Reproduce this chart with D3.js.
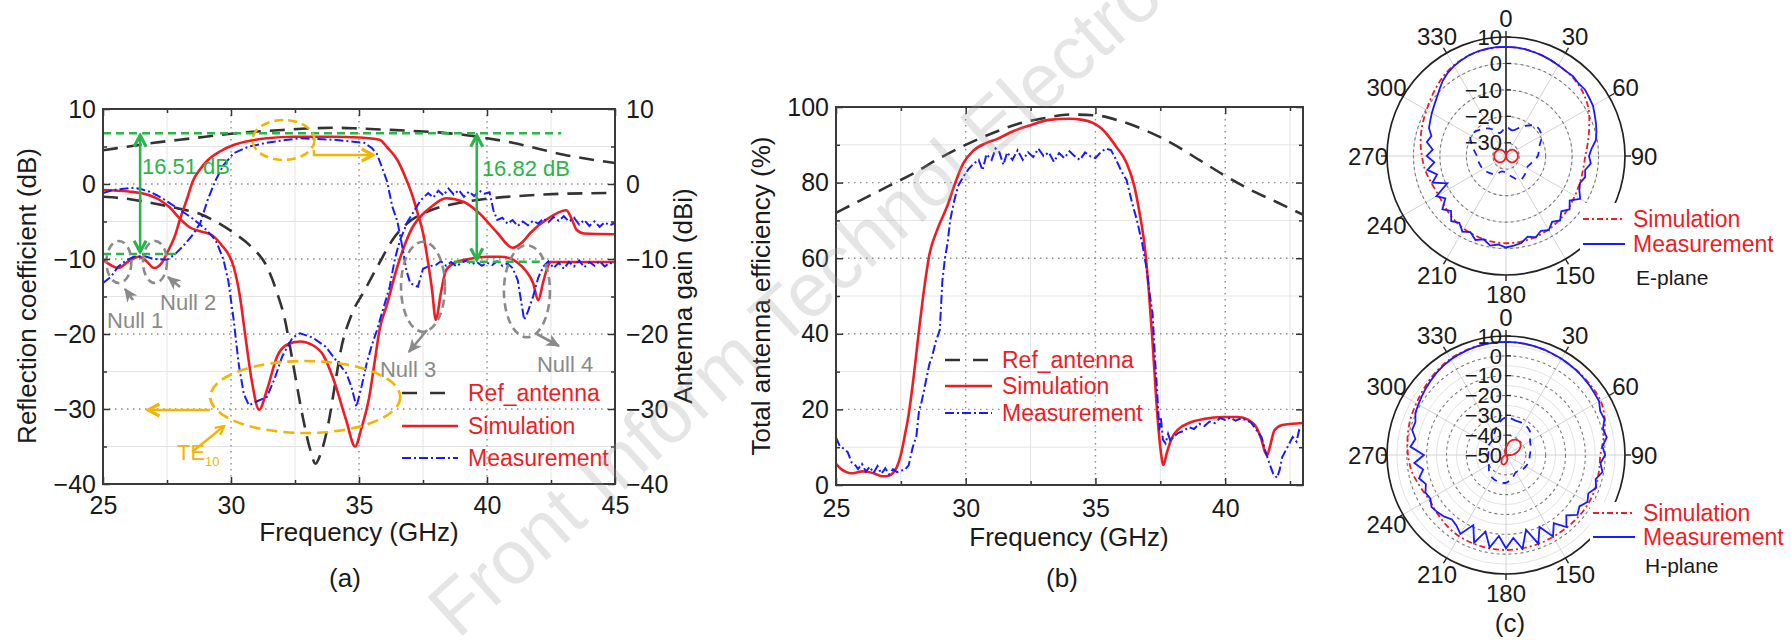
<!DOCTYPE html>
<html><head><meta charset="utf-8">
<script src="https://cdn.jsdelivr.net/npm/d3@7/dist/d3.min.js"></script>
<style>
html,body{margin:0;padding:0;background:#fff;}
svg{display:block;}
text{font-family:"Liberation Sans",Arial,Helvetica,sans-serif;}
</style></head><body>
<svg id="chart" width="1791" height="643"></svg>
<script>
// ---------------- DATA ----------------
const freqTicksA = [25,30,35,40,45];
const freqMinorA = [27.5,32.5,37.5,42.5];
const dbTicks = [-40,-30,-20,-10,0,10];
const dbMinor = [-35,-25,-15,-5,5];
const freqTicksB = [25,30,35,40];
const freqMinorB = [27.5,32.5,37.5,42.5];
const effTicks = [0,20,40,60,80,100];
const effMinor = [10,30,50,70,90];
const legendLabels = ["Ref_antenna","Simulation","Measurement"];
const polarLegendLabels = ["Simulation","Measurement"];
const angleTicks = [0,30,60,90,120,150,180,210,240,270,300,330];
const eRadialTicks = [10,0,-10,-20,-30];
const hRadialTicks = [10,0,-10,-20,-30,-40,-50];

// (a) reflection coefficient (left axis, dB)
const refS11 = [[25,-1.7],[26,-2.0],[27,-2.6],[28,-3.3],[28.8,-4.0],[29.5,-5.2],[30.1,-6.5],[30.8,-8.4],[31.4,-11],[31.8,-14.5],[32.1,-18],[32.4,-23.5],[32.8,-31],[33.1,-35.5],[33.3,-37.3],[33.5,-36],[33.8,-32],[34.05,-27],[34.3,-22],[34.7,-17.5],[35.2,-14.3],[35.8,-10.5],[36.3,-7.5],[36.9,-5.2],[37.8,-3.5],[38.8,-2.6],[39.7,-2.1],[41.7,-1.5],[43,-1.3],[45,-1.2]];
const simS11 = [[25,-0.8],[26,-1.0],[26.6,-1.3],[27.2,-2.1],[27.6,-3.1],[28.0,-4.6],[28.4,-5.8],[28.8,-6.3],[29.2,-6.7],[29.6,-8.0],[30.1,-11],[30.35,-15],[30.55,-20],[30.8,-26],[31.1,-30.1],[31.4,-27.5],[31.8,-23],[32.2,-21.4],[32.7,-21],[33.2,-21.5],[33.6,-22.8],[34.0,-26],[34.5,-31.5],[34.85,-35],[35.1,-32.5],[35.4,-28.4],[35.6,-24],[35.8,-19.5],[36.1,-16],[36.5,-11],[36.8,-8],[37.1,-5.7],[37.5,-4],[37.8,-3.1],[38.4,-1.9],[39.1,-2.4],[39.7,-3.9],[40.4,-6.5],[41.0,-8.5],[41.4,-7.7],[41.7,-6.5],[42.3,-4.8],[43.1,-3.5],[43.3,-4.6],[43.5,-6.1],[43.8,-6.6],[45,-6.7]];
const measS11 = [[25,-1.2],[25.3,-0.9],[25.6,-0.7],[25.9,-0.6],[26.2,-0.5],[26.5,-0.7],[26.8,-1.0],[27.1,-1.5],[27.4,-2.1],[27.9,-3.2],[28.5,-4.6],[29.0,-6.0],[29.4,-7.5],[29.7,-10],[29.9,-13],[30.1,-18],[30.3,-24],[30.5,-28],[30.7,-29.5],[31.0,-29.0],[31.4,-28.4],[31.7,-26],[32.0,-23],[32.4,-20.5],[32.7,-19.9],[33.2,-20.5],[33.7,-21.7],[34.1,-23.5],[34.5,-25.2],[34.7,-27],[34.9,-29.7],[35.1,-27],[35.3,-23.9],[35.5,-21.5],[35.7,-19.5],[36.0,-16],[36.2,-13.7],[36.4,-10],[36.6,-7.5],[36.9,-5],[37.1,-3.9],[37.4,-2.2],[37.7,-1.2],[37.9,-1.8],[38.1,-0.9],[38.3,-1.5],[38.5,-0.6],[38.7,-1.4],[38.9,-0.8],[39.1,-1.7],[39.3,-1.0],[39.5,-1.6],[39.7,-0.9],[39.9,-1.3],[40.1,-1.1],[40.25,-3.5],[40.4,-4.8],[40.6,-4.5],[40.8,-5.3],[41.0,-4.8],[41.2,-5.6],[41.4,-5.0],[41.6,-5.5],[41.8,-4.9],[42.0,-5.3],[42.2,-4.6],[42.4,-5.1],[42.6,-4.4],[42.8,-4.9],[43.0,-4.3],[43.2,-5.0],[43.4,-4.5],[43.6,-5.4],[43.8,-4.8],[44.0,-5.6],[44.2,-5.0],[44.4,-5.7],[44.6,-5.1],[44.8,-5.5],[45,-5.2]];
// (a) antenna gain (right axis, dBi)
const refGain = [[25,4.5],[26,5.0],[27,5.5],[28,5.9],[29,6.3],[30,6.7],[31,7.0],[32,7.2],[33,7.4],[34,7.5],[35,7.4],[36,7.25],[37,7.1],[38,6.9],[39,6.6],[40,6.1],[41,5.5],[42,4.7],[43,3.9],[44,3.3],[45,2.8]];
const simGain = [[25,-10.1],[25.3,-10.8],[25.6,-11.2],[26.0,-10.3],[26.4,-9.7],[26.7,-10.3],[27.0,-11.2],[27.3,-10.5],[27.5,-9.2],[27.8,-7.0],[28.0,-4.8],[28.3,-1.8],[28.5,0.3],[28.8,2.0],[29.1,3.2],[29.6,4.4],[30.1,5.2],[30.8,5.8],[31.4,6.1],[32.5,6.3],[34,6.3],[35.0,6.2],[35.8,5.9],[36.1,4.9],[36.5,3.2],[36.8,1.0],[37.1,-1.7],[37.3,-4],[37.5,-6.5],[37.7,-10.5],[37.85,-14],[38.0,-18.1],[38.2,-14.5],[38.4,-11.5],[38.8,-10.4],[39.3,-10.0],[40.0,-9.7],[40.5,-9.7],[40.9,-9.9],[41.2,-10.5],[41.5,-11.5],[41.8,-13.2],[42.0,-15.5],[42.2,-13],[42.4,-10.8],[42.5,-10.4],[45,-10.4]];
const measGain = [[25,-13.2],[25.3,-12.4],[25.6,-11],[25.9,-10.2],[26.2,-9.7],[26.6,-9.6],[27.0,-10.0],[27.5,-10.1],[27.8,-9.4],[28.1,-8.4],[28.5,-6.8],[28.8,-5.2],[29.1,-2],[29.4,0.5],[29.7,2.5],[30.1,4.1],[30.7,5.0],[31.4,5.5],[32.0,5.8],[32.7,6.1],[33.4,6.0],[34.0,5.9],[34.6,5.7],[35.2,5.5],[35.5,4.8],[35.7,4.0],[35.9,2.2],[36.1,0.3],[36.3,-3.0],[36.5,-5.0],[36.7,-8.5],[36.85,-11.5],[37.0,-13.2],[37.15,-13.5],[37.3,-13.7],[37.5,-11.3],[37.7,-11.0],[38.0,-10.8],[38.2,-10.3],[38.4,-10.9],[38.6,-10.4],[38.8,-11.0],[39.0,-10.5],[39.2,-10.2],[39.4,-10.7],[39.6,-10.4],[39.8,-10.9],[40.0,-10.5],[40.2,-10.8],[40.4,-10.3],[40.6,-10.9],[40.8,-10.6],[41.0,-11.2],[41.2,-12.8],[41.35,-16],[41.45,-18.1],[41.6,-17],[41.8,-15],[42.0,-12.5],[42.2,-11],[42.4,-10.3],[42.6,-11.2],[42.8,-10.5],[43.0,-11.3],[43.2,-10.4],[43.4,-11.0],[43.6,-10.2],[43.8,-11.1],[44.0,-10.4],[44.2,-10.9],[44.4,-10.3],[44.6,-11.0],[44.8,-10.5],[45,-10.8]];

// (b) total antenna efficiency (%)
const refEff = [[25,72],[26,75.5],[27,79],[28,82.5],[29,86.5],[30,90],[31,93],[32,95.5],[33,97],[34,98],[35,97.8],[36,96.2],[37,93.6],[38,90.2],[39,86],[40,81.8],[41,78],[42,74.8],[43,71.5]];
const simEff = [[25,5.6],[25.2,4.2],[25.4,3.4],[25.6,3.1],[25.8,3.3],[26.0,3.6],[26.2,3.5],[26.5,3.0],[26.8,2.3],[27.0,2.4],[27.2,3.2],[27.35,4.8],[27.5,8],[27.65,13],[27.8,18.6],[28.0,29],[28.2,41],[28.4,52],[28.6,61],[28.9,67.5],[29.3,74],[29.6,80],[29.9,85],[30.3,88.5],[30.8,90.5],[31.2,91.5],[31.8,93.5],[32.5,95.2],[33.2,96.6],[34.0,96.9],[34.5,96.6],[34.9,95.8],[35.2,94.5],[35.5,92.3],[35.8,89.5],[36.2,85.2],[36.5,79],[36.7,72],[36.9,63],[37.05,52],[37.2,38],[37.35,22],[37.5,10],[37.62,5.3],[37.75,8.5],[37.95,12.5],[38.2,14.8],[38.6,16.4],[39.2,17.5],[39.9,18],[40.5,18],[40.9,17.2],[41.2,15.3],[41.4,12],[41.55,8.5],[41.62,7.9],[41.72,10],[41.9,14.5],[42.2,15.9],[42.6,16.2],[43,16.4]];
const measEff = [[25.0,12.5],[25.15,10.2],[25.3,9.6],[25.45,8.7],[25.6,6.0],[25.75,5.2],[25.85,4.2],[26.0,5.6],[26.15,3.6],[26.3,4.8],[26.45,3.2],[26.6,5.0],[26.75,3.0],[26.9,4.4],[27.05,2.8],[27.2,4.2],[27.35,3.4],[27.5,3.8],[27.65,4.0],[27.8,5.2],[27.95,9.8],[28.1,13],[28.2,19.6],[28.3,22],[28.45,27],[28.6,32],[28.7,33.9],[28.85,38],[29.0,41],[29.1,54],[29.2,60],[29.3,64],[29.4,70],[29.55,75],[29.7,79],[29.9,81.5],[30.1,83.5],[30.3,85],[30.5,86],[30.65,83.3],[30.8,87.5],[31.0,86],[31.15,89],[31.3,88],[31.45,84.7],[31.6,88],[31.8,86],[32.0,88.6],[32.2,86],[32.4,88],[32.6,86.8],[32.8,89],[33.0,87],[33.2,88],[33.4,85.5],[33.6,87.8],[33.8,86.5],[34.0,88.3],[34.2,87],[34.4,86],[34.6,88],[34.8,87],[35.0,86.5],[35.2,88],[35.4,89],[35.6,88.6],[35.8,86],[36.0,83],[36.2,80.7],[36.4,75],[36.6,70],[36.8,64],[36.96,57.7],[37.1,50],[37.2,45.5],[37.3,33],[37.35,27.8],[37.42,19.8],[37.46,14.5],[37.52,18],[37.6,12],[37.7,11],[37.8,13.5],[37.9,11.5],[38.0,12.7],[38.2,13.8],[38.4,14.3],[38.6,15.3],[38.8,14.8],[39.0,16.2],[39.2,15.6],[39.4,16.8],[39.6,16.4],[39.8,17.7],[40.0,17.2],[40.2,17.8],[40.4,17.0],[40.6,17.6],[40.8,17.2],[41.0,16.5],[41.2,14.6],[41.4,12.7],[41.55,9],[41.7,5.8],[41.85,3],[42.0,1.9],[42.1,4],[42.2,7.4],[42.4,10],[42.6,12.7],[42.75,11.5],[42.85,14.5],[43.0,13.8]];

// (c) radiation patterns [angle deg, dB]
const eSim = [[0,6.2],[10,6.0],[20,5.4],[30,4.6],[40,4.0],[50,2.8],[60,1.0],[70,-1.5],[80,-3.5],[90,-5.0],[100,-5.4],[110,-5.3],[120,-4.9],[130,-4.2],[140,-3.5],[150,-2.9],[160,-2.4],[170,-2.1],[180,-2.0],[190,-2.2],[200,-2.7],[210,-3.2],[220,-4.0],[230,-4.9],[240,-5.5],[250,-5.0],[260,-4.0],[270,-3.2],[280,-2.2],[290,-1.3],[300,-0.3],[310,1.2],[320,3.0],[330,4.6],[340,5.5],[350,6.0]];
const eMeas = [[0,6.3],[5,6.2],[10,6.0],[15,5.7],[20,5.4],[25,5.0],[30,4.6],[35,4.3],[40,4.4],[45,3.8],[50,4.0],[55,3.4],[60,3.0],[65,2.0],[70,1.2],[75,0.4],[80,-0.5],[85,-2.5],[90,-3.6],[95,-2.8],[100,-4.6],[105,-4.0],[110,-5.2],[115,-4.4],[120,-2.6],[125,-5.6],[130,-3.6],[135,-5.4],[140,-3.2],[145,-4.6],[150,-2.6],[155,-3.8],[160,-2.2],[165,-3.4],[170,-1.6],[175,-1.0],[180,-0.4],[185,-1.4],[190,-0.6],[195,-2.4],[200,-1.2],[205,-3.2],[210,-2.0],[215,-4.2],[220,-2.8],[225,-5.6],[230,-3.6],[235,-7.0],[240,-4.6],[245,-10.5],[250,-5.4],[255,-8.0],[260,-4.8],[265,-7.8],[270,-5.0],[275,-7.2],[280,-4.6],[285,-5.8],[290,-4.0],[295,-3.4],[300,-2.6],[305,-1.8],[310,-0.8],[315,0.6],[320,2.2],[325,3.4],[330,4.3],[335,5.0],[340,5.6],[345,6.0],[350,6.2],[355,6.3]];
const eSimX = [[0,-35],[15,-33.8],[30,-32.6],[45,-31.6],[60,-31.0],[75,-30.6],[90,-30.5],[105,-30.6],[120,-31.0],[135,-31.6],[150,-32.6],[165,-33.8],[180,-35],[195,-33.8],[210,-32.6],[225,-31.6],[240,-31.0],[255,-30.6],[270,-30.5],[285,-30.6],[300,-31.0],[315,-31.6],[330,-32.6],[345,-33.8]];
const eMeasX = [[0,-24],[15,-25],[30,-22],[45,-19],[60,-19.5],[75,-22],[90,-23],[105,-25],[120,-26],[135,-25],[150,-24.5],[165,-27],[180,-28.6],[195,-29],[210,-27],[225,-26],[240,-25],[255,-24.5],[270,-24],[285,-22],[300,-19.5],[315,-21],[330,-23],[345,-26]];
const hSim = [[0,7.0],[10,6.8],[20,6.4],[30,5.9],[40,5.6],[50,5.3],[60,5.0],[70,3.0],[80,0.0],[90,-2.4],[100,-2.4],[110,-2.0],[120,-1.8],[130,-2.0],[140,-2.3],[150,-2.4],[160,-2.3],[170,-2.2],[180,-2.1],[190,-2.2],[200,-2.4],[210,-2.7],[220,-3.5],[230,-4.6],[240,-5.2],[250,-3.8],[260,-1.8],[270,-0.6],[280,0.4],[290,1.4],[300,2.2],[310,3.4],[320,4.8],[330,6.0],[340,6.6],[350,6.9]];
const hMeas = [[0,7.0],[5,7.0],[10,6.9],[15,6.7],[20,6.5],[25,6.2],[30,6.0],[35,5.7],[40,5.5],[45,5.1],[50,4.8],[55,4.4],[60,4.2],[65,2.4],[70,2.8],[75,0.6],[80,1.6],[85,-1.2],[90,0.0],[95,-2.2],[100,-0.6],[105,-3.2],[110,-1.6],[115,-4.2],[120,-2.6],[125,-4.8],[130,-3.0],[135,-7.0],[140,-2.6],[145,-8.0],[150,-2.6],[155,-10.0],[160,-2.4],[165,-11.0],[170,-2.0],[175,-8.0],[180,-3.0],[185,-9.0],[190,-2.6],[195,-10.0],[200,-3.0],[205,-11.0],[210,-4.0],[215,-6.5],[220,-7.6],[225,-6.0],[230,-5.0],[235,-4.2],[240,-6.0],[245,-5.2],[250,-7.0],[255,-4.6],[260,-7.6],[265,-3.6],[270,-8.6],[275,-1.6],[280,-3.6],[285,-1.0],[290,-1.4],[295,0.4],[300,1.0],[305,1.8],[310,2.6],[315,3.4],[320,4.3],[325,5.0],[330,5.6],[335,6.0],[340,6.4],[345,6.7],[350,6.9],[355,7.0]];
const hSimX = [[0,-46],[15,-43],[30,-41],[45,-40.4],[60,-41.5],[75,-44],[90,-47],[105,-49.5],[120,-50],[135,-50],[150,-49],[165,-47.5],[180,-46],[195,-45],[210,-45.5],[225,-47],[240,-48.5],[255,-49.5],[270,-50],[285,-50],[300,-50],[315,-50],[330,-49.5],[345,-48]];
const hMeasX = [[0,-31],[15,-32],[30,-32],[45,-33],[60,-36],[75,-37],[90,-38],[105,-38],[120,-38.5],[135,-39],[150,-40],[165,-38],[180,-36],[195,-36],[210,-36.5],[225,-38],[240,-40],[255,-40.5],[270,-41],[285,-41],[300,-40],[315,-40],[330,-38],[345,-34]];

// ---------------- STYLE ----------------
const RED="#ee1d24", BLUE="#1a1aff", BLK="#333", GREEN="#2db34b", ORANGE="#f4b400", GRAY="#8a8a8a";
const TICKFS=25, TITLEFS=26, LEGFS=23;
const svg = d3.select("#chart");
const defs = svg.append("defs");

function chevron(id,color,size){
  defs.append("marker").attr("id",id).attr("viewBox","0 0 12 12").attr("refX",10.5).attr("refY",6)
    .attr("markerWidth",size).attr("markerHeight",size).attr("markerUnits","userSpaceOnUse").attr("orient","auto-start-reverse")
    .append("path").attr("d","M2,1.5 L10.5,6 L2,10.5").attr("fill","none").attr("stroke",color).attr("stroke-width",2.4).attr("stroke-linejoin","miter");
}
function triHead(id,color,size){
  defs.append("marker").attr("id",id).attr("viewBox","0 0 12 12").attr("refX",10).attr("refY",6)
    .attr("markerWidth",size).attr("markerHeight",size).attr("markerUnits","userSpaceOnUse").attr("orient","auto-start-reverse")
    .append("path").attr("d","M0,1 L11,6 L0,11 L3,6 Z").attr("fill",color);
}
chevron("arrGreen",GREEN,16); chevron("arrOrange",ORANGE,16); triHead("arrGray",GRAY,15); chevron("arrOrangeS",ORANGE,12);

function gridAndFrame(g,x,y,xt,xm,yt,ym){
  const [xl,xr]=x.range(), [yb,yt0]=y.range();
  g.append("rect").attr("x",xl).attr("y",yt0).attr("width",xr-xl).attr("height",yb-yt0).attr("fill","#fff");
  g.selectAll(null).data(xm).join("line").attr("x1",d=>x(d)).attr("x2",d=>x(d)).attr("y1",yt0).attr("y2",yb).attr("stroke","#e4e4e4").attr("stroke-width",1);
  g.selectAll(null).data(ym).join("line").attr("y1",d=>y(d)).attr("y2",d=>y(d)).attr("x1",xl).attr("x2",xr).attr("stroke","#e4e4e4").attr("stroke-width",1);
  g.selectAll(null).data(xt).join("line").attr("x1",d=>x(d)).attr("x2",d=>x(d)).attr("y1",yt0).attr("y2",yb).attr("stroke","#8d8d8d").attr("stroke-width",1.4).attr("stroke-dasharray","1.5,4.5");
  g.selectAll(null).data(yt).join("line").attr("y1",d=>y(d)).attr("y2",d=>y(d)).attr("x1",xl).attr("x2",xr).attr("stroke","#8d8d8d").attr("stroke-width",1.4).attr("stroke-dasharray","1.5,4.5");
}
function styleAxis(sel){
  sel.select(".domain").remove();
  sel.selectAll(".tick line").attr("stroke","#333").attr("stroke-width",1.5);
  sel.selectAll("text").attr("font-size",TICKFS).attr("fill","#1a1a1a");
}
function axes(g,x,y,xt,xm,yt,ym,o){
  const [xl,xr]=x.range(), [yb,yt0]=y.range();
  const fmt=d3.format("d");
  g.append("g").attr("transform",`translate(0,${yb})`).call(d3.axisBottom(x).tickValues(xt).tickSize(-7).tickPadding(o.bPad).tickFormat(fmt)).call(styleAxis);
  g.append("g").attr("transform",`translate(0,${yb})`).call(d3.axisBottom(x).tickValues(xm).tickSize(-4).tickFormat("")).call(styleAxis);
  g.append("g").attr("transform",`translate(0,${yt0})`).call(d3.axisTop(x).tickValues(xt).tickSize(-7).tickFormat("")).call(styleAxis);
  g.append("g").attr("transform",`translate(0,${yt0})`).call(d3.axisTop(x).tickValues(xm).tickSize(-4).tickFormat("")).call(styleAxis);
  g.append("g").attr("transform",`translate(${xl},0)`).call(d3.axisLeft(y).tickValues(yt).tickSize(-7).tickPadding(o.lPad).tickFormat(fmt)).call(styleAxis);
  g.append("g").attr("transform",`translate(${xl},0)`).call(d3.axisLeft(y).tickValues(ym).tickSize(-4).tickFormat("")).call(styleAxis);
  const r = d3.axisRight(o.yR||y).tickValues(yt).tickSize(-7).tickPadding(o.rPad||8).tickFormat(o.rightLabels?fmt:"");
  g.append("g").attr("transform",`translate(${xr},0)`).call(r).call(styleAxis);
  g.append("g").attr("transform",`translate(${xr},0)`).call(d3.axisRight(o.yR||y).tickValues(ym).tickSize(-4).tickFormat("")).call(styleAxis);
  g.append("rect").attr("x",xl).attr("y",yt0).attr("width",xr-xl).attr("height",yb-yt0).attr("fill","none").attr("stroke","#3a3a3a").attr("stroke-width",2);
}
function drawLine(g,data,x,y,style,curve){
  const ln=d3.line().x(d=>x(d[0])).y(d=>y(d[1])).curve(curve||d3.curveMonotoneX);
  const p=g.append("path").datum(data).attr("d",ln).attr("fill","none");
  if(style==="ref") p.attr("stroke",BLK).attr("stroke-width",2.6).attr("stroke-dasharray","15,9");
  if(style==="sim") p.attr("stroke",RED).attr("stroke-width",2.6);
  if(style==="meas") p.attr("stroke",BLUE).attr("stroke-width",2).attr("stroke-dasharray","9,3,2,3");
  return p;
}
function legendRow(g,x1,x2,y,tx,label,style){
  const l=g.append("line").attr("x1",x1).attr("x2",x2).attr("y1",y).attr("y2",y);
  if(style==="ref") l.attr("stroke",BLK).attr("stroke-width",2.6).attr("stroke-dasharray","15,13");
  if(style==="sim") l.attr("stroke",RED).attr("stroke-width",2.6);
  if(style==="meas") l.attr("stroke",BLUE).attr("stroke-width",2).attr("stroke-dasharray","9,3,2,3");
  g.append("text").attr("x",tx).attr("y",y+8).attr("font-size",LEGFS).attr("fill",RED).text(label);
}
const styles=["ref","sim","meas"];

// ---------------- PANEL (a) ----------------
const xA=d3.scaleLinear().domain([25,45]).range([103,615]);
const yA=d3.scaleLinear().domain([-40,10]).range([484,109]);   // reflection coefficient
const yAR=d3.scaleLinear().domain([-40,10]).range([484,109]);  // antenna gain
const gA=svg.append("g");
gridAndFrame(gA,xA,yA,freqTicksA,freqMinorA,dbTicks,dbMinor);
defs.append("clipPath").attr("id","clipA").append("rect").attr("x",103).attr("y",109).attr("width",512).attr("height",375);
const cA=gA.append("g").attr("clip-path","url(#clipA)");
drawLine(cA,refS11,xA,yA,"ref");
drawLine(cA,refGain,xA,yAR,"ref");
drawLine(cA,simS11,xA,yA,"sim");
drawLine(cA,simGain,xA,yAR,"sim");
drawLine(cA,measS11,xA,yA,"meas",d3.curveLinear);
drawLine(cA,measGain,xA,yAR,"meas",d3.curveLinear);

// annotations (data coordinates)
const ann=gA.append("g");
const gl=(f1,f2,v)=>ann.append("line").attr("x1",xA(f1)).attr("x2",xA(f2)).attr("y1",yA(v)).attr("y2",yA(v)).attr("stroke",GREEN).attr("stroke-width",2.6).attr("stroke-dasharray","8,5");
gl(25,42.9,6.76); gl(25,28.0,-9.33); gl(38.7,42.2,-10.36);
const garrow=(f,v1,v2)=>ann.append("line").attr("x1",xA(f)).attr("x2",xA(f)).attr("y1",yA(v1)+2).attr("y2",yA(v2)-2).attr("stroke",GREEN).attr("stroke-width",2.6).attr("marker-start","url(#arrGreen)").attr("marker-end","url(#arrGreen)");
garrow(26.45,6.76,-9.33); garrow(39.6,6.76,-10.36);
ann.append("text").attr("x",xA(26.52)).attr("y",yA(1.33)).attr("font-size",22).attr("fill",GREEN).text("16.51 dB");
ann.append("text").attr("x",xA(39.8)).attr("y",yA(1.07)).attr("font-size",22).attr("fill",GREEN).text("16.82 dB");
// null ellipses
const nulls=[{f:25.62,v:-10.4,rx:12.5,ry:21},{f:27.03,v:-10.4,rx:12,ry:21},{f:37.5,v:-13.7,rx:22,ry:45},{f:41.56,v:-14.3,rx:23,ry:46}];
ann.selectAll(null).data(nulls).join("ellipse").attr("cx",d=>xA(d.f)).attr("cy",d=>yA(d.v)).attr("rx",d=>d.rx).attr("ry",d=>d.ry)
  .attr("fill","none").attr("stroke",GRAY).attr("stroke-width",2.6).attr("stroke-dasharray","8,5");
const nullArrows=[[26.17,-15.47,25.86,-14.0],[28.01,-13.73,27.54,-12.4],[37.66,-19.47,36.95,-22.4],[41.95,-20.0,42.81,-21.6]];
ann.selectAll(null).data(nullArrows).join("line").attr("x1",d=>xA(d[0])).attr("y1",d=>yA(d[1])).attr("x2",d=>xA(d[2])).attr("y2",d=>yA(d[3]))
  .attr("stroke",GRAY).attr("stroke-width",2.6).attr("marker-end","url(#arrGray)");
const nullLabels=[["Null 1",25.16,-19.2],["Null 2",27.23,-16.8],["Null 3",35.82,-25.73],["Null 4",41.95,-25.07]];
ann.selectAll(null).data(nullLabels).join("text").attr("x",d=>xA(d[1])).attr("y",d=>yA(d[2])).attr("font-size",22).attr("fill",GRAY).text(d=>d[0]);
// orange TE10 annotations
ann.append("ellipse").attr("cx",xA(32.05)).attr("cy",yA(5.87)).attr("rx",31).attr("ry",20).attr("fill","none").attr("stroke",ORANGE).attr("stroke-width",2.6).attr("stroke-dasharray","9,5");
ann.append("path").attr("d",`M${xA(33.24)},${yA(4.53)} L${xA(33.24)},${yA(3.87)} L${xA(35.55)},${yA(3.87)}`).attr("fill","none").attr("stroke",ORANGE).attr("stroke-width",2.4).attr("marker-end","url(#arrOrange)");
ann.append("ellipse").attr("cx",xA(32.9)).attr("cy",yA(-28.4)).attr("rx",95).attr("ry",36).attr("fill","none").attr("stroke",ORANGE).attr("stroke-width",2.6).attr("stroke-dasharray","11,6");
ann.append("line").attr("x1",xA(29.18)).attr("y1",yA(-30.13)).attr("x2",xA(26.76)).attr("y2",yA(-30.13)).attr("stroke",ORANGE).attr("stroke-width",2.4).attr("marker-end","url(#arrOrange)");
ann.append("line").attr("x1",xA(28.48)).attr("y1",yA(-35.73)).attr("x2",xA(29.73)).attr("y2",yA(-32.27)).attr("stroke",ORANGE).attr("stroke-width",2.4).attr("marker-end","url(#arrOrangeS)");
const te=ann.append("text").attr("x",xA(27.89)).attr("y",yA(-36.8)).attr("font-size",22).attr("fill",ORANGE).text("TE");
te.append("tspan").attr("font-size",13).attr("dy",6).text("10");

axes(gA,xA,yA,freqTicksA,freqMinorA,dbTicks,dbMinor,{bPad:12,lPad:7,rPad:11,rightLabels:true,yR:yAR});
// legend (a)
const legA=gA.append("g");
legendLabels.forEach((lb,i)=>legendRow(legA,402,458,[393,426,458][i],468,lb,styles[i]));
// titles (a)
gA.append("text").attr("transform","translate(36,296) rotate(-90)").attr("text-anchor","middle").attr("font-size",TITLEFS).attr("fill","#1a1a1a").text("Reflection coefficient (dB)");
gA.append("text").attr("transform","translate(692,296) rotate(-90)").attr("text-anchor","middle").attr("font-size",TITLEFS).attr("fill","#1a1a1a").text("Antenna gain (dBi)");
gA.append("text").attr("x",359).attr("y",541).attr("text-anchor","middle").attr("font-size",TITLEFS).attr("fill","#1a1a1a").text("Frequency (GHz)");
gA.append("text").attr("x",345).attr("y",587).attr("text-anchor","middle").attr("font-size",TITLEFS).attr("fill","#1a1a1a").text("(a)");

// ---------------- PANEL (b) ----------------
const xB=d3.scaleLinear().domain([25,43]).range([836,1303]);
const yB=d3.scaleLinear().domain([0,100]).range([485,107]);
const gB=svg.append("g");
gridAndFrame(gB,xB,yB,freqTicksB,freqMinorB,effTicks,effMinor);
defs.append("clipPath").attr("id","clipB").append("rect").attr("x",836).attr("y",107).attr("width",467).attr("height",378);
const cB=gB.append("g").attr("clip-path","url(#clipB)");
drawLine(cB,refEff,xB,yB,"ref");
drawLine(cB,simEff,xB,yB,"sim");
drawLine(cB,measEff,xB,yB,"meas",d3.curveLinear);
axes(gB,xB,yB,freqTicksB,freqMinorB,effTicks,effMinor,{bPad:14,lPad:7,rightLabels:false});
const legB=gB.append("g");
legendLabels.forEach((lb,i)=>legendRow(legB,945,992,[360,386,413][i],1002,lb,styles[i]));
gB.append("text").attr("transform","translate(770,296) rotate(-90)").attr("text-anchor","middle").attr("font-size",TITLEFS).attr("fill","#1a1a1a").text("Total antenna efficiency (%)");
gB.append("text").attr("x",1069).attr("y",546).attr("text-anchor","middle").attr("font-size",TITLEFS).attr("fill","#1a1a1a").text("Frequency (GHz)");
gB.append("text").attr("x",1062).attr("y",587).attr("text-anchor","middle").attr("font-size",TITLEFS).attr("fill","#1a1a1a").text("(b)");

// ---------------- PANEL (c) ----------------
function polar(cx,cy,R,dom,rTicks,sim,meas,simX,measX,leg,planeLabel){
  const r=d3.scaleLinear().domain(dom).range([0,R]).clamp(true);
  const g=svg.append("g").attr("transform",`translate(${cx},${cy})`);
  const minor=d3.range(dom[0]+5,dom[1],10);
  g.selectAll(null).data(minor).join("circle").attr("r",d=>r(d)).attr("fill","none").attr("stroke","#e3e3e3").attr("stroke-width",1);
  g.selectAll(null).data(d3.range(0,360,30)).join("line").attr("x1",0).attr("y1",0)
    .attr("x2",d=>R*Math.sin(d*Math.PI/180)).attr("y2",d=>-R*Math.cos(d*Math.PI/180)).attr("stroke","#d2d2d2").attr("stroke-width",1);
  g.selectAll(null).data(rTicks.filter(v=>v<dom[1]&&v>dom[0])).join("circle").attr("r",d=>r(d)).attr("fill","none").attr("stroke","#7a7a7a").attr("stroke-width",1.1).attr("stroke-dasharray","3,3");
  g.append("circle").attr("r",R).attr("fill","none").attr("stroke","#222").attr("stroke-width",1.7);
  g.selectAll(null).data(angleTicks).join("line")
    .attr("x1",d=>R*Math.sin(d*Math.PI/180)).attr("y1",d=>-R*Math.cos(d*Math.PI/180))
    .attr("x2",d=>(R+6)*Math.sin(d*Math.PI/180)).attr("y2",d=>-(R+6)*Math.cos(d*Math.PI/180)).attr("stroke","#222").attr("stroke-width",1.4);
  g.append("line").attr("x1",0).attr("y1",0).attr("x2",0).attr("y2",-R).attr("stroke","#222").attr("stroke-width",1.6);
  g.selectAll(null).data(rTicks).join("line").attr("x1",0).attr("x2",5).attr("y1",d=>-r(d)).attr("y2",d=>-r(d)).attr("stroke","#222").attr("stroke-width",1.3);
  const lr=d3.lineRadial().angle(d=>d[0]*Math.PI/180).radius(d=>r(d[1]));
  g.append("path").datum(measX).attr("d",lr.curve(d3.curveCardinalClosed)).attr("fill","none").attr("stroke",BLUE).attr("stroke-width",1.8).attr("stroke-dasharray","7,6");
  g.append("path").datum(simX).attr("d",lr.curve(d3.curveCardinalClosed)).attr("fill","none").attr("stroke",RED).attr("stroke-width",1.8);
  g.append("path").datum(sim).attr("d",lr.curve(d3.curveCardinalClosed)).attr("fill","none").attr("stroke",RED).attr("stroke-width",1.8).attr("stroke-dasharray","6,3,2,3");
  g.append("path").datum(meas).attr("d",lr.curve(d3.curveLinearClosed)).attr("fill","none").attr("stroke",BLUE).attr("stroke-width",1.8);
  // radial labels
  g.selectAll(null).data(rTicks).join("text").attr("x",-4).attr("y",d=>-r(d)).attr("dy","0.35em").attr("text-anchor","end").attr("font-size",22).attr("fill","#1a1a1a").text(d=>d3.format("d")(d));
  // legend box hides circle behind
  svg.append("rect").attr("x",leg.bx).attr("y",leg.by).attr("width",1791-leg.bx).attr("height",leg.bh).attr("fill","#fff");
  const lg=svg.append("g");
  polarLegendLabels.forEach((lb,i)=>{
    const y=leg.y[i];
    const l=lg.append("line").attr("x1",leg.x1).attr("x2",leg.x2).attr("y1",y).attr("y2",y).attr("stroke-width",1.8);
    if(i===0) l.attr("stroke",RED).attr("stroke-dasharray","6,3,2,3"); else l.attr("stroke",BLUE);
    lg.append("text").attr("x",leg.tx).attr("y",y+8).attr("font-size",LEGFS).attr("fill",RED).text(lb);
  });
  lg.append("text").attr("x",leg.px).attr("y",leg.py).attr("font-size",21).attr("fill","#1a1a1a").text(planeLabel);
  // angle labels
  g.selectAll(null).data(angleTicks).join("text")
    .attr("x",d=>(R+19)*Math.sin(d*Math.PI/180)).attr("y",d=>-(R+19)*Math.cos(d*Math.PI/180))
    .attr("dy","0.36em").attr("text-anchor","middle").attr("font-size",24).attr("fill","#1a1a1a").text(d=>d);
}
polar(1506,156,119,[-35,10],eRadialTicks,eSim,eMeas,eSimX,eMeasX,
  {bx:1580,by:203,bh:60,x1:1583,x2:1625,tx:1633,y:[219,244],px:1636,py:285},"E-plane");
polar(1506,455,119,[-50,10],hRadialTicks,hSim,hMeas,hSimX,hMeasX,
  {bx:1590,by:502,bh:56,x1:1593,x2:1635,tx:1643,y:[513,537],px:1645,py:573},"H-plane");
svg.append("text").attr("x",1510).attr("y",632).attr("text-anchor","middle").attr("font-size",TITLEFS).attr("fill","#1a1a1a").text("(c)");

// ---------------- watermark ----------------
svg.append("text").attr("transform","translate(458,640) rotate(-42)").attr("font-size",76).attr("fill","#9a9a9a").attr("opacity",0.25).text("Front Inform Technol Electron");
</script></body></html>
